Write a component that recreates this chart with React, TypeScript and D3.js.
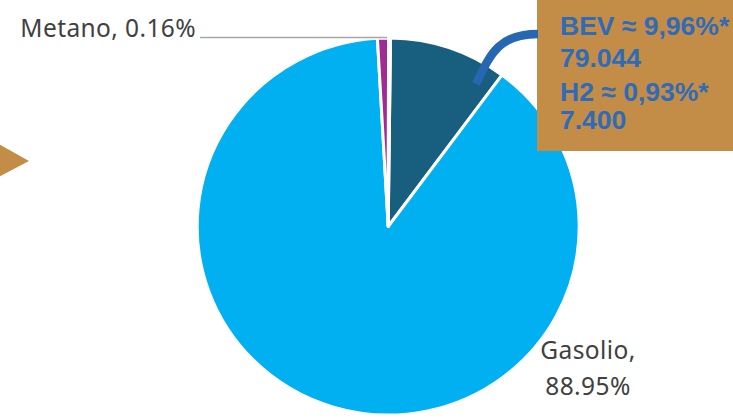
import React from "react";
import * as d3 from "d3";

const categories = ["BEV", "Gasolio", "H2", "Metano"];
const values = [9.96, 88.95, 0.93, 0.16];
const colors = ["#175E7F", "#00B0F0", "#A12B94", "#FFFFFF"];

const boxLines = ["BEV ≈ 9,96%*", "79.044", "H2 ≈ 0,93%*", "7.400"];
const gasolioLabel = ["Gasolio,", "88.95%"];
const metanoLabel = "Metano, 0.16%";

const W = 733;
const H = 418;

export default function App() {
  const cx = 388.2;
  const cy = 226.5;
  const r = 191;
  const ry = 188.5;

  const pie = d3
    .pie<number>()
    .sort(null)
    .value((d) => d)
    .startAngle(0.012)
    .endAngle(0.012 + 2 * Math.PI);
  const arcs = pie(values);
  const arcGen = d3.arc<d3.PieArcDatum<number>>().innerRadius(0).outerRadius(r);

  const curve = d3.path();
  curve.moveTo(476, 84);
  curve.bezierCurveTo(490, 55, 498, 34, 538, 34);

  const labelStyle = {
    fontFamily: "'Noto Sans', sans-serif",
    fontSize: 24.5,
    letterSpacing: 0.4,
  };

  return (
    <svg
      width={W}
      height={H}
      style={{ position: "absolute", left: 0, top: 0, display: "block" }}
      viewBox={`0 0 ${W} ${H}`}
    >
      <rect x={0} y={0} width={W} height={H} fill="#FFFFFF" />
      <g transform={`translate(${cx},${cy}) scale(1,${ry / r})`}>
        {arcs.map((a, i) => (
          <path
            key={categories[i]}
            d={arcGen(a) || ""}
            fill={colors[i]}
            stroke="#FFFFFF"
            strokeWidth={3}
            strokeLinejoin="round"
          />
        ))}
      </g>
      {/* Metano leader */}
      <line x1={200} y1={37.5} x2={387} y2={37.5} stroke="#A6A6A6" strokeWidth={1.6} />
      <text x={196} y={37} textAnchor="end" fill="#404040" style={labelStyle}>
        {metanoLabel}
      </text>
      {/* Gasolio label */}
      {gasolioLabel.map((t, i) => (
        <text
          key={t}
          x={588}
          y={359 + i * 36}
          textAnchor="middle"
          fill="#404040"
          style={labelStyle}
        >
          {t}
        </text>
      ))}
      {/* left triangle */}
      <path d="M-5,142 L29,161 L-5,179 Z" fill="#C38C47" />
      {/* golden box */}
      <rect x={537} y={0} width={W - 537} height={151} fill="#C38C47" />
      <path d={curve.toString()} fill="none" stroke="#2567B1" strokeWidth={8.5} />
      {boxLines.map((t, i) => (
        <text
          key={t}
          x={560}
          y={[35, 67, 101, 129][i]}
          fill="#2E6BB8"
          style={{
            fontFamily: "'Liberation Sans', Arial, sans-serif",
            fontSize: 26.5,
            fontWeight: 700,
          }}
        >
          {t}
        </text>
      ))}
    </svg>
  );
}
